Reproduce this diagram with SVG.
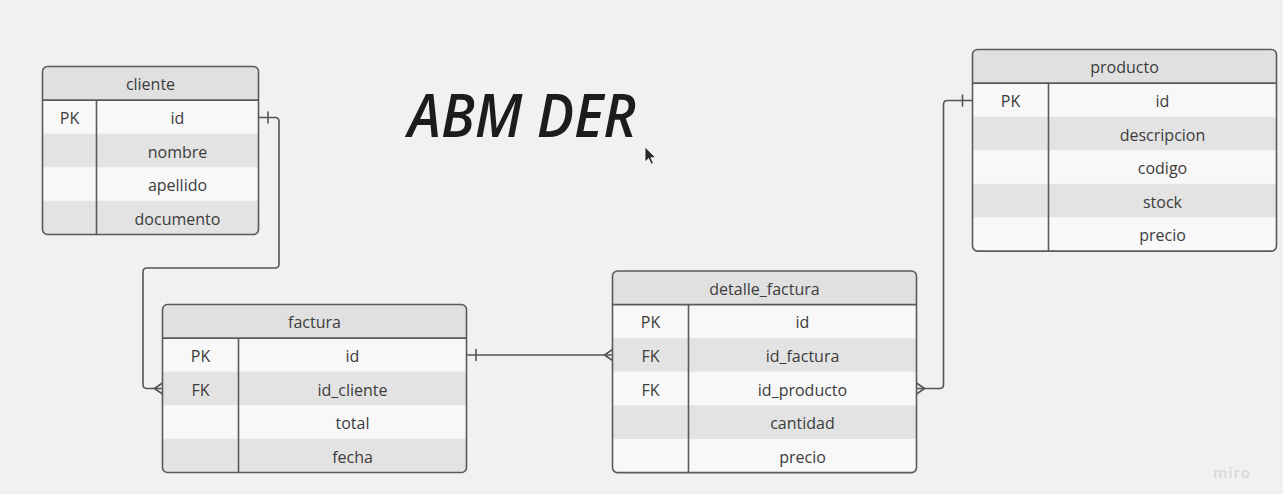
<svg xmlns="http://www.w3.org/2000/svg" width="1283" height="494" viewBox="0 0 1283 494">
  <style>
    .bg { fill: #f1f1f1; }
    .hdr { fill: #e0e0e0; }
    .lt { fill: #f8f8f8; }
    .dk { fill: #e3e3e3; }
    .frame { fill: none; stroke: #5a5a5a; stroke-width: 1.6; }
    .rule { stroke: #5a5a5a; stroke-width: 1.6; }
    .t { font-family: "Open Sans", "Noto Sans", "Liberation Sans", sans-serif; font-size: 16px; fill: #3c3c3c; text-anchor: middle; }
    .link { fill: none; stroke: #555555; stroke-width: 1.6; stroke-linejoin: round; stroke-linecap: round; }
    .title { font-family: "Open Sans", "Noto Sans", sans-serif; font-style: italic; font-weight: 600; font-size: 60px; fill: #1c1c1c; }
    .wm { font-family: "Open Sans", "Noto Sans", sans-serif; font-weight: 600; font-size: 15px; fill: #d8d8d8; letter-spacing: 1px; }
  </style>
  <defs>
    <clipPath id="clip-cliente"><rect x="42.5" y="66.5" width="216" height="168" rx="5"/></clipPath>
    <clipPath id="clip-factura"><rect x="162.5" y="304.5" width="304" height="168" rx="5"/></clipPath>
    <clipPath id="clip-detalle"><rect x="612.5" y="271" width="304" height="201.6" rx="5"/></clipPath>
    <clipPath id="clip-producto"><rect x="972.5" y="49.5" width="304" height="201.6" rx="5"/></clipPath>
  </defs>

  <rect class="bg" x="0" y="0" width="1283" height="494"/>

  <!-- heading -->
  <text class="title" x="408" y="137" textLength="228" lengthAdjust="spacingAndGlyphs">ABM DER</text>

  <!-- pointer -->
  <path d="M645,147 L645,162 L648.6,158.6 L651.2,164.2 L653.4,163.2 L650.9,157.7 L655.6,157.5 Z" fill="#2a2a2a" stroke="#ffffff" stroke-width="0.8"/>

  <!-- relationships -->
  <g id="connectors">
    <!-- cliente.id 1 : N factura.id_cliente -->
    <path class="link" d="M258.5,117.5 H275 Q279,117.5 279,121.5 V264 Q279,268 275,268 H147 Q143,268 143,272 V384.5 Q143,388.5 147,388.5 H162.5"/>
    <path class="link" d="M268,112 V123"/>
    <path class="link" d="M154.5,388.5 L162.5,383 M154.5,388.5 L162.5,394"/>

    <!-- factura.id 1 : N detalle_factura.id_factura -->
    <path class="link" d="M466.5,355 H612.5"/>
    <path class="link" d="M476,349.5 V360.5"/>
    <path class="link" d="M604.5,355 L612.5,349.5 M604.5,355 L612.5,360.5"/>

    <!-- producto.id 1 : N detalle_factura.id_producto -->
    <path class="link" d="M916.5,388.5 H939.5 Q943.5,388.5 943.5,384.5 V104.5 Q943.5,100.5 947.5,100.5 H972.5"/>
    <path class="link" d="M962.5,95 V106"/>
    <path class="link" d="M924.5,388.5 L916.5,383 M924.5,388.5 L916.5,394"/>
  </g>

  <!-- cliente -->
  <g id="cliente">
    <g clip-path="url(#clip-cliente)">
      <rect class="hdr" x="42.5" y="66.5" width="216" height="33.6"/>
      <rect class="lt" x="42.5" y="100.1" width="216" height="33.6"/>
      <rect class="dk" x="42.5" y="133.7" width="216" height="33.6"/>
      <rect class="lt" x="42.5" y="167.3" width="216" height="33.6"/>
      <rect class="dk" x="42.5" y="200.9" width="216" height="33.6"/>
    </g>
    <line class="rule" x1="42.5" y1="100.1" x2="258.5" y2="100.1"/>
    <line class="rule" x1="96.5" y1="100.1" x2="96.5" y2="234.5"/>
    <rect class="frame" x="42.5" y="66.5" width="216" height="168" rx="5"/>
    <text class="t" x="150.5" y="90.3">cliente</text>
    <text class="t" x="69.5" y="123.9">PK</text>
    <text class="t" x="177.5" y="123.9">id</text>
    <text class="t" x="177.5" y="157.5">nombre</text>
    <text class="t" x="177.5" y="191.1">apellido</text>
    <text class="t" x="177.5" y="224.7">documento</text>
  </g>

  <!-- factura -->
  <g id="factura">
    <g clip-path="url(#clip-factura)">
      <rect class="hdr" x="162.5" y="304.5" width="304" height="33.6"/>
      <rect class="lt" x="162.5" y="338.1" width="304" height="33.6"/>
      <rect class="dk" x="162.5" y="371.7" width="304" height="33.6"/>
      <rect class="lt" x="162.5" y="405.3" width="304" height="33.6"/>
      <rect class="dk" x="162.5" y="438.9" width="304" height="33.6"/>
    </g>
    <line class="rule" x1="162.5" y1="338.1" x2="466.5" y2="338.1"/>
    <line class="rule" x1="238.5" y1="338.1" x2="238.5" y2="472.5"/>
    <rect class="frame" x="162.5" y="304.5" width="304" height="168" rx="5"/>
    <text class="t" x="314.5" y="328.3">factura</text>
    <text class="t" x="200.5" y="361.9">PK</text>
    <text class="t" x="352.5" y="361.9">id</text>
    <text class="t" x="200.5" y="395.5">FK</text>
    <text class="t" x="352.5" y="395.5">id_cliente</text>
    <text class="t" x="352.5" y="429.1">total</text>
    <text class="t" x="352.5" y="462.7">fecha</text>
  </g>

  <!-- detalle_factura -->
  <g id="detalle_factura">
    <g clip-path="url(#clip-detalle)">
      <rect class="hdr" x="612.5" y="271" width="304" height="33.6"/>
      <rect class="lt" x="612.5" y="304.6" width="304" height="33.6"/>
      <rect class="dk" x="612.5" y="338.2" width="304" height="33.6"/>
      <rect class="lt" x="612.5" y="371.8" width="304" height="33.6"/>
      <rect class="dk" x="612.5" y="405.4" width="304" height="33.6"/>
      <rect class="lt" x="612.5" y="439" width="304" height="33.6"/>
    </g>
    <line class="rule" x1="612.5" y1="304.6" x2="916.5" y2="304.6"/>
    <line class="rule" x1="688.5" y1="304.6" x2="688.5" y2="472.6"/>
    <rect class="frame" x="612.5" y="271" width="304" height="201.6" rx="5"/>
    <text class="t" x="764.5" y="294.8">detalle_factura</text>
    <text class="t" x="650.5" y="328.4">PK</text>
    <text class="t" x="802.5" y="328.4">id</text>
    <text class="t" x="650.5" y="362">FK</text>
    <text class="t" x="802.5" y="362">id_factura</text>
    <text class="t" x="650.5" y="395.6">FK</text>
    <text class="t" x="802.5" y="395.6">id_producto</text>
    <text class="t" x="802.5" y="429.2">cantidad</text>
    <text class="t" x="802.5" y="462.8">precio</text>
  </g>

  <!-- producto -->
  <g id="producto">
    <g clip-path="url(#clip-producto)">
      <rect class="hdr" x="972.5" y="49.5" width="304" height="33.6"/>
      <rect class="lt" x="972.5" y="83.1" width="304" height="33.6"/>
      <rect class="dk" x="972.5" y="116.7" width="304" height="33.6"/>
      <rect class="lt" x="972.5" y="150.3" width="304" height="33.6"/>
      <rect class="dk" x="972.5" y="183.9" width="304" height="33.6"/>
      <rect class="lt" x="972.5" y="217.5" width="304" height="33.6"/>
    </g>
    <line class="rule" x1="972.5" y1="83.1" x2="1276.5" y2="83.1"/>
    <line class="rule" x1="1048.5" y1="83.1" x2="1048.5" y2="251.1"/>
    <rect class="frame" x="972.5" y="49.5" width="304" height="201.6" rx="5"/>
    <text class="t" x="1124.5" y="73.3">producto</text>
    <text class="t" x="1010.5" y="106.9">PK</text>
    <text class="t" x="1162.5" y="106.9">id</text>
    <text class="t" x="1162.5" y="140.5">descripcion</text>
    <text class="t" x="1162.5" y="174.1">codigo</text>
    <text class="t" x="1162.5" y="207.7">stock</text>
    <text class="t" x="1162.5" y="241.3">precio</text>
  </g>

  <!-- board watermark -->
  <text class="wm" x="1213" y="478">miro</text>
</svg>
